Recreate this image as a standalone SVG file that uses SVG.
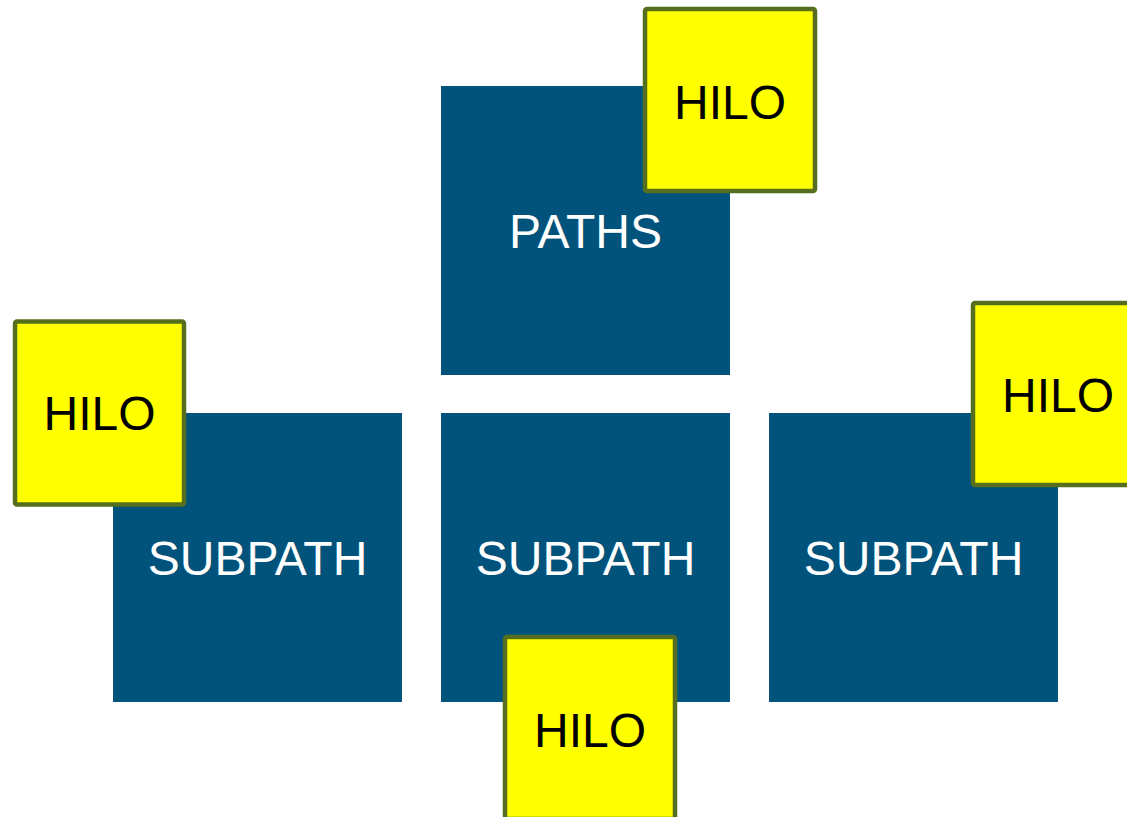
<svg xmlns="http://www.w3.org/2000/svg" width="1127" height="817" viewBox="0 0 1127 817">
  <style>
    .box { fill: #02537b; }
    .box-label { fill: #ffffff; font-family: "Liberation Sans", Arial, sans-serif; font-size: 48px; text-anchor: middle; }
    .tag { fill: #ffff00; stroke: #566f1f; stroke-width: 4.5; }
    .tag-label { fill: #000000; font-family: "Liberation Sans", Arial, sans-serif; font-size: 48px; text-anchor: middle; }
  </style>
  <rect width="1127" height="817" fill="#ffffff"/>

  <g id="connectors"></g>

  <g id="paths">
    <rect class="box" x="441" y="86" width="289" height="289"/>
    <text class="box-label" x="585.5" y="248">PATHS</text>
  </g>
  <g id="subpath-left">
    <rect class="box" x="113" y="413" width="289" height="289"/>
    <text class="box-label" x="257.5" y="575">SUBPATH</text>
  </g>
  <g id="subpath-middle">
    <rect class="box" x="441" y="413" width="289" height="289"/>
    <text class="box-label" x="585.5" y="575">SUBPATH</text>
  </g>
  <g id="subpath-right">
    <rect class="box" x="769" y="413" width="289" height="289"/>
    <text class="box-label" x="913.5" y="575">SUBPATH</text>
  </g>

  <g id="hilo-paths">
    <rect class="tag" x="645" y="9" width="170" height="182" rx="2"/>
    <text class="tag-label" x="730" y="119">HILO</text>
  </g>
  <g id="hilo-left">
    <rect class="tag" x="15" y="321.5" width="169" height="183" rx="2"/>
    <text class="tag-label" x="99.5" y="430">HILO</text>
  </g>
  <g id="hilo-right">
    <rect class="tag" x="973" y="303" width="170" height="182" rx="2"/>
    <text class="tag-label" x="1058" y="411.5">HILO</text>
  </g>
  <g id="hilo-bottom">
    <rect class="tag" x="505" y="637" width="170" height="182" rx="2"/>
    <text class="tag-label" x="590" y="747">HILO</text>
  </g>
</svg>
